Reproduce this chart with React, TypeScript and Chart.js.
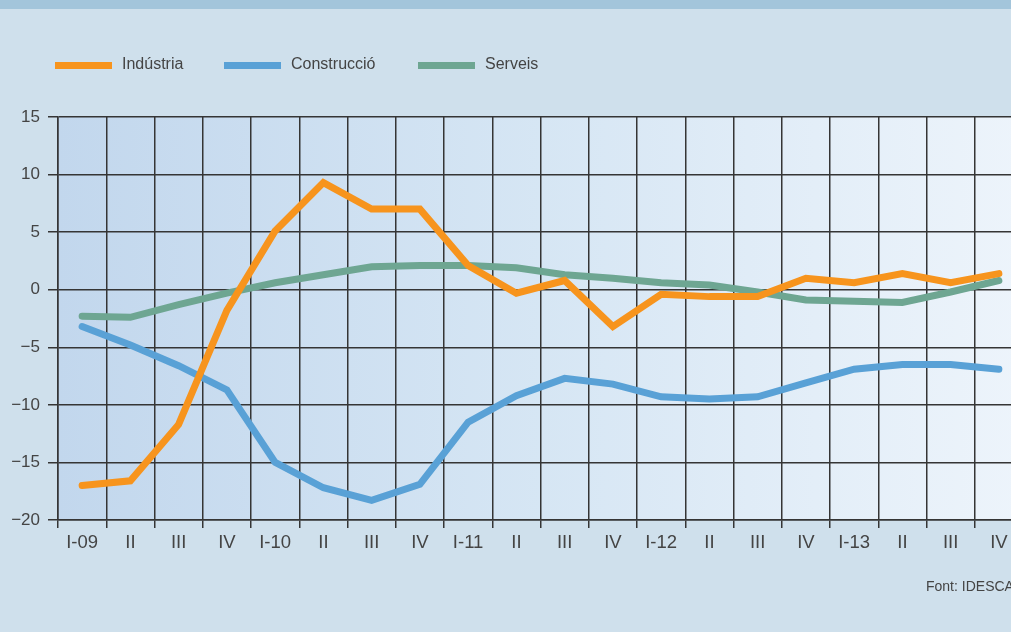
import React, { useEffect, useRef } from "react";
import { Chart, registerables } from "chart.js";

Chart.register(...registerables);

const categories = [
  "I-09", "II", "III", "IV",
  "I-10", "II", "III", "IV",
  "I-11", "II", "III", "IV",
  "I-12", "II", "III", "IV",
  "I-13", "II", "III", "IV",
];
const industria = [-17.0, -16.6, -11.7, -1.8, 5.1, 9.3, 7.0, 7.0, 2.1, -0.3, 0.8, -3.2, -0.4, -0.6, -0.6, 1.0, 0.6, 1.4, 0.6, 1.4];
const construccio = [-3.2, -4.8, -6.6, -8.7, -15.0, -17.2, -18.3, -16.9, -11.5, -9.2, -7.7, -8.2, -9.3, -9.5, -9.3, -8.1, -6.9, -6.5, -6.5, -6.9];
const serveis = [-2.3, -2.4, -1.3, -0.3, 0.6, 1.3, 2.0, 2.1, 2.1, 1.9, 1.3, 1.0, 0.6, 0.4, -0.2, -0.9, -1.0, -1.1, -0.2, 0.8];
const seriesNames = ["Indústria", "Construcció", "Serveis"];
const seriesColors = ["#f7941d", "#59a1d6", "#6ea692"];
const yMin = -20;
const yMax = 15;
const yStep = 5;
const sourceText = "Font: IDESCA";

const FONT = "'Liberation Sans', Arial, Helvetica, sans-serif";
const TEXT = "#444444";
const GRID = "#353535";

export default function App() {
  const ref = useRef<HTMLCanvasElement | null>(null);

  useEffect(() => {
    document.body.style.margin = "0";
    const canvas = ref.current;
    if (!canvas) return;

    const bgPlugin = {
      id: "bgPlugin",
      beforeDraw(chart: any) {
        const { ctx, chartArea, width, height } = chart;
        ctx.save();
        ctx.fillStyle = "#cfe0ec";
        ctx.fillRect(0, 0, width, height);
        ctx.fillStyle = "#a3c5db";
        ctx.fillRect(0, 0, width, 9);
        const g = ctx.createLinearGradient(chartArea.left, 0, chartArea.right, 0);
        g.addColorStop(0, "#c2d7ed");
        g.addColorStop(0.5, "#d6e6f4");
        g.addColorStop(1, "#edf4fb");
        ctx.fillStyle = g;
        ctx.fillRect(chartArea.left, chartArea.top, chartArea.right - chartArea.left, chartArea.bottom - chartArea.top);
        ctx.restore();
      },
      afterDraw(chart: any) {
        const { ctx } = chart;
        ctx.save();
        // legend
        const starts = [55, 224, 418];
        ctx.font = `16px ${FONT}`;
        ctx.textBaseline = "middle";
        ctx.textAlign = "left";
        seriesNames.forEach((name, i) => {
          ctx.fillStyle = seriesColors[i];
          ctx.fillRect(starts[i], 62, 57, 7);
          ctx.fillStyle = TEXT;
          ctx.fillText(name, starts[i] + 67, 65);
        });
        // source
        ctx.font = `14px ${FONT}`;
        ctx.textBaseline = "alphabetic";
        ctx.fillStyle = TEXT;
        ctx.fillText(sourceText, 926, 591);
        ctx.restore();
      },
    };

    const chart = new Chart(canvas, {
      type: "line",
      data: {
        labels: categories,
        datasets: [industria, construccio, serveis].map((d, i) => ({
          label: seriesNames[i],
          data: d,
          borderColor: seriesColors[i],
          backgroundColor: seriesColors[i],
          borderWidth: 7,
          borderCapStyle: "round" as const,
          borderJoinStyle: "miter" as const,
          pointRadius: 0,
          tension: 0,
          fill: false,
        })),
      },
      options: {
        responsive: false,
        animation: false,
        layout: { padding: { top: 117, right: 7, left: 0, bottom: 0 } },
        plugins: {
          legend: { display: false },
          tooltip: { enabled: false },
        },
        scales: {
          x: {
            offset: true,
            grid: {
              offset: true,
              color: GRID,
              lineWidth: 1.5,
              tickLength: 8,
              drawTicks: true,
            },
            border: { color: GRID, width: 1.5 },
            ticks: {
              color: TEXT,
              font: { family: FONT, size: 18.5 },
              padding: 4,
              maxRotation: 0,
              autoSkip: false,
            },
            afterFit(scale: any) {
              scale.height = 112;
            },
          },
          y: {
            min: yMin,
            max: yMax,
            grid: {
              color: GRID,
              lineWidth: 1.5,
              tickLength: 10,
            },
            border: { color: GRID, width: 1.5 },
            ticks: {
              stepSize: yStep,
              color: TEXT,
              font: { family: FONT, size: 17 },
              padding: 8,
              callback: (v: any) => String(v).replace("-", "\u2212"),
            },
            afterFit(scale: any) {
              scale.width = 58;
            },
          },
        },
      },
      plugins: [bgPlugin],
    });

    return () => chart.destroy();
  }, []);

  return (
    <div style={{ width: 1011, height: 632, overflow: "hidden", position: "relative" }}>
      <canvas ref={ref} width={1030} height={632} style={{ display: "block" }} />
    </div>
  );
}
